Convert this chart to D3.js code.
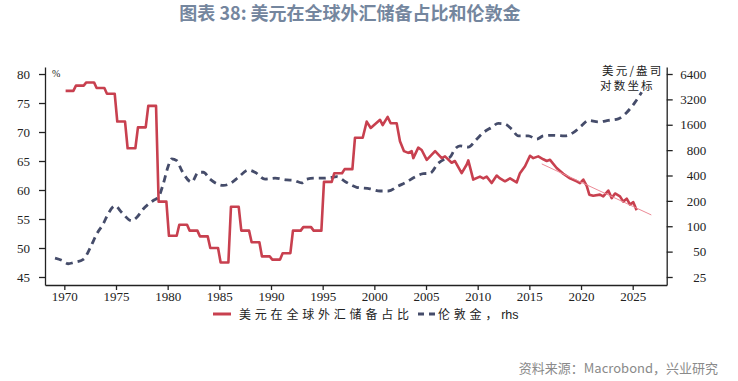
<!DOCTYPE html>
<html><head><meta charset="utf-8">
<script src="https://cdn.jsdelivr.net/npm/d3@7"></script>
<style>
body{margin:0;background:#fff;}
svg{display:block;}
</style></head>
<body>
<svg id="c" width="738" height="381"></svg>
<script>
// ---------- data ----------
const annualYears = d3.range(1970, 1999);
const annualShare = [77.1, 78.0, 78.55, 77.6, 76.6, 71.8, 67.2, 70.8, 74.5, 58.0,
  52.1, 54.0, 53.0, 52.0, 50.0, 47.5, 57.1, 53.0, 51.0, 48.55,
  48.0, 49.1, 53.0, 53.6, 53.0, 61.4, 62.9, 63.6, 69.0];
const qYears = [1999.26, 1999.65, 2000.55, 2000.81, 2001.29, 2001.58, 2002.16, 2002.48, 2002.87, 2003.28,
  2003.61, 2003.77, 2004.25, 2004.58, 2005.07, 2005.88, 2006.52, 2006.84, 2007.48, 2007.80,
  2008.45, 2008.94, 2009.09, 2009.57, 2010.22, 2010.54, 2010.87, 2011.35, 2011.84, 2012.16,
  2012.64, 2013.13, 2013.77, 2014.09, 2014.58, 2015.06, 2015.38, 2015.86, 2016.35, 2016.68,
  2017.0, 2017.64, 2018.28, 2018.93, 2019.58, 2019.9, 2020.22, 2020.55, 2020.8, 2021.18,
  2021.83, 2022.15, 2022.64, 2022.97, 2023.29, 2023.77, 2024.09, 2024.42, 2024.74, 2025.06, 2025.38];
const qShare = [71.8, 70.7, 72.1, 71.2, 72.6, 71.5, 71.5, 68.4, 66.7, 66.4,
  66.7, 65.5, 67.3, 66.9, 65.2, 66.7, 65.5, 65.8, 64.7, 65.0,
  62.9, 64.4, 65.1, 61.8, 62.3, 62.0, 62.3, 61.2, 62.5, 62.0,
  61.5, 62.0, 61.3, 62.9, 64.1, 65.9, 65.5, 65.8, 65.3, 65.0,
  65.2, 63.8, 62.8, 62.0, 61.5, 61.2, 61.8, 60.7, 59.2, 59.0,
  59.2, 58.9, 59.9, 58.6, 59.4, 58.9, 58.0, 58.5, 57.5, 57.9, 56.5];
const trendYears = [2016.2, 2026.8];
const trendShare = [64.5, 55.7];
const goldYears = [1969.1, 1969.75, 1970.39, 1970.87, 1971.84, 1972.49, 1973.13, 1973.77, 1974.26, 1974.91,
  1975.55, 1976.52, 1977.0, 1977.64, 1978.61, 1979.1, 1979.58, 1980.06, 1980.39, 1980.88,
  1981.36, 1982.33, 1982.97, 1983.45, 1984.1, 1984.75, 1985.38, 1986.03, 1986.84, 1987.8,
  1988.45, 1989.42, 1990.39, 1991.52, 1992.16, 1992.97, 1993.45, 1994.26, 1995.06, 1995.87,
  1996.36, 1997.16, 1998.29, 1999.58, 2000.55, 2001.35, 2002.32, 2003.13, 2003.93, 2004.74,
  2005.38, 2006.19, 2006.84, 2007.32, 2007.8, 2008.29, 2009.09, 2009.9, 2010.54, 2011.35,
  2011.99, 2012.64, 2013.29, 2013.93, 2014.9, 2015.71, 2016.35, 2017.31, 2018.45, 2019.25,
  2020.06, 2020.7, 2021.67, 2022.64, 2023.6, 2024.42, 2025.22, 2025.87];
const goldPrice = [41.8, 39.4, 35.9, 37, 40.5, 55, 80.7, 107, 142, 175,
  146, 116, 127, 160, 202, 221, 320, 520, 630, 600,
  458, 334, 437, 437, 362, 320, 305, 320, 380, 465,
  437, 362, 372, 354, 351, 327, 362, 372, 372, 380,
  387, 340, 290, 278, 262, 262, 300, 335, 385, 420,
  425, 560, 630, 660, 825, 900, 870, 1080, 1290, 1490,
  1660, 1630, 1420, 1180, 1180, 1080, 1180, 1200, 1180, 1290,
  1560, 1800, 1730, 1800, 1880, 2240, 2950, 3890];
const xTicks = d3.range(1970, 2026, 5);
const leftTicks = [45, 50, 55, 60, 65, 70, 75, 80];
const rightTicks = [25, 50, 100, 200, 400, 800, 1600, 3200, 6400];
const title = "图表 38: 美元在全球外汇储备占比和伦敦金";
const legendLabels = ["美元在全球外汇储备占比", "伦敦金，"];
const source = "资料来源：Macrobond，兴业研究";

// ---------- layout ----------
const svg = d3.select("#c");
const L = 45, R = 666.7, T = 67, B = 285;
const x = d3.scaleLinear().domain([1968.13, 2028.29]).range([L, R]);
const yL = d3.scaleLinear().domain([43.62, 81.21]).range([B, T]);
const yR = d3.scaleLog().domain([20.09, 7749]).range([B, T]);
const red = "#c8404f", navy = "#454c6a";
const serif = "'Liberation Serif','DejaVu Serif',serif";
const cjk = "'Noto Sans CJK SC','Noto Sans',sans-serif";

// title
svg.append("text").attr("x", 350).attr("y", 20).attr("text-anchor", "middle")
  .attr("font-family", cjk).attr("font-weight", "bold").attr("font-size", 18)
  .attr("fill", "#74869e").text(title);

// axes
function styleAxis(g) {
  g.selectAll("path.domain").attr("stroke", "#222").attr("stroke-width", 1.3);
  g.selectAll(".tick line").attr("stroke", "#222").attr("stroke-width", 1.3);
  g.selectAll(".tick text").attr("font-family", serif).attr("font-size", 13).attr("fill", "#222");
}
const gx = svg.append("g").attr("transform", `translate(0,${B})`)
  .call(d3.axisBottom(x).tickValues(xTicks).tickFormat(d3.format("d")).tickSize(5).tickSizeOuter(0).tickPadding(2));
styleAxis(gx);
const gl = svg.append("g").attr("transform", `translate(${L},0)`)
  .call(d3.axisLeft(yL).tickValues(leftTicks).tickSize(6).tickSizeOuter(0).tickPadding(9));
styleAxis(gl);
const gr = svg.append("g").attr("transform", `translate(${R},0)`)
  .call(d3.axisRight(yR).tickValues(rightTicks).tickFormat(d3.format("d")).tickSize(6).tickSizeOuter(0));
styleAxis(gr);
gr.selectAll(".tick text").attr("text-anchor", "end").attr("x", 39.5);

svg.append("text").attr("x", 52).attr("y", 77).attr("font-family", serif).attr("font-size", 10)
  .attr("fill", "#222").text("%");

// annotation
const ann = svg.append("g").attr("font-family", cjk).attr("font-size", 11.5).attr("fill", "#222")
  .attr("letter-spacing", 2.2);
ann.append("text").attr("x", 602).attr("y", 75).text("美元/盎司");
ann.append("text").attr("x", 600).attr("y", 90).text("对数坐标");

// gold line
const goldData = goldYears.map((d, i) => [d, goldPrice[i]]);
svg.append("path").datum(goldData)
  .attr("d", d3.line().x(d => x(d[0])).y(d => yR(d[1])).curve(d3.curveMonotoneX))
  .attr("fill", "none").attr("stroke", navy).attr("stroke-width", 2.8)
  .attr("stroke-dasharray", "7,5");

// USD share line
const shareData = annualYears.flatMap((yr, i) => [[yr + 0.125, annualShare[i]], [yr + 0.875, annualShare[i]]])
  .concat(qYears.map((d, i) => [d, qShare[i]]));
svg.append("path").datum(shareData)
  .attr("d", d3.line().x(d => x(d[0])).y(d => yL(d[1])))
  .attr("fill", "none").attr("stroke", red).attr("stroke-width", 2.6).attr("stroke-linejoin", "round");

// trend
svg.append("path").datum(trendYears.map((d, i) => [d, trendShare[i]]))
  .attr("d", d3.line().x(d => x(d[0])).y(d => yL(d[1])))
  .attr("fill", "none").attr("stroke", "#ec8a96").attr("stroke-width", 1);

// legend
const lg = svg.append("g");
lg.append("line").attr("x1", 213).attr("x2", 231).attr("y1", 314).attr("y2", 314)
  .attr("stroke", red).attr("stroke-width", 3);
lg.append("text").attr("x", 239).attr("y", 318.5).attr("font-family", cjk).attr("font-size", 12)
  .attr("letter-spacing", 3.8).attr("fill", "#222").text(legendLabels[0]);
lg.append("line").attr("x1", 418).attr("x2", 436).attr("y1", 314).attr("y2", 314)
  .attr("stroke", navy).attr("stroke-width", 3).attr("stroke-dasharray", "6,5");
const t2 = lg.append("text").attr("x", 438).attr("y", 318.5).attr("font-family", cjk).attr("font-size", 12)
  .attr("fill", "#222");
t2.append("tspan").attr("letter-spacing", 3.8).text(legendLabels[1]);
t2.append("tspan").attr("font-family", "'Liberation Sans',Arial,sans-serif").attr("font-size", 12.5).text("rhs");

// source
svg.append("text").attr("x", 718).attr("y", 373).attr("text-anchor", "end")
  .attr("font-family", cjk).attr("font-size", 13).attr("fill", "#8a8a8a").text(source);
</script>
</body></html>
